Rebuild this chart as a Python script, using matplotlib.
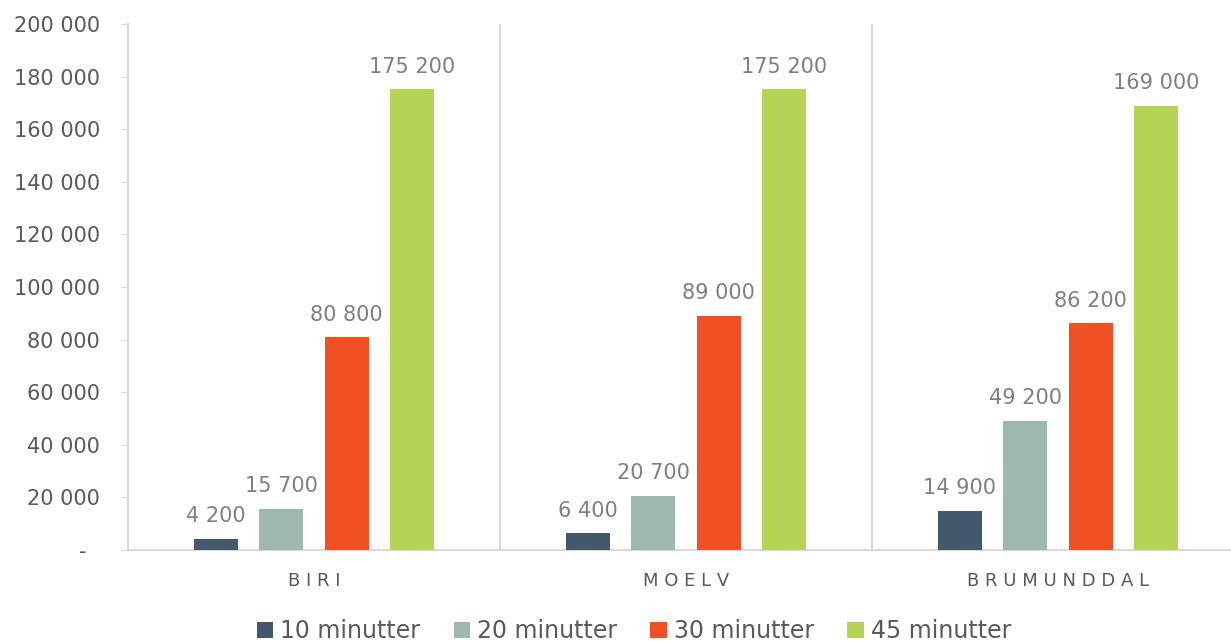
import matplotlib.pyplot as plt
import numpy as np

# Data
places = ["BIRI", "MOELV", "BRUMUNDDAL"]
series = ["10 minutter", "20 minutter", "30 minutter", "45 minutter"]
values = [
    [4200, 6400, 14900],
    [15700, 20700, 49200],
    [80800, 89000, 86200],
    [175200, 175200, 169000],
]
colors = ["#41596b", "#9db8ae", "#f05023", "#b5d455"]
yticks = [0, 20000, 40000, 60000, 80000, 100000, 120000, 140000, 160000, 180000, 200000]


def fmt(v):
    return "-  " if v == 0 else f"{v:,}".replace(",", " ")


fig = plt.figure(figsize=(12.31, 6.42), dpi=100)
# axes extends slightly past the right edge, as in the reference
ax = fig.add_axes([128 / 1231, 1 - 550 / 642, 1116 / 1231, 526 / 642])

x = np.arange(len(places))
step = 0.176
width = 0.118
offsets = (np.arange(len(series)) - 1.5) * step

for i, name in enumerate(series):
    bars = ax.bar(x + offsets[i], values[i], width, color=colors[i], label=name, zorder=3)
    for b, v in zip(bars, values[i]):
        ax.annotate(fmt(v), (b.get_x() + b.get_width() / 2, v), xytext=(0, 9),
                    textcoords="offset points", ha="center", va="bottom",
                    fontsize=15, color="#7f7f7f")

ax.set_xlim(-0.5, len(places) - 0.5)
ax.set_ylim(0, 200000)
ax.set_yticks(yticks)
ax.set_yticklabels([fmt(v) for v in yticks], fontsize=15, color="#595959")
ax.set_xticks(x)
ax.set_xticklabels([" ".join(p) for p in places], fontsize=13, color="#595959")
ax.tick_params(axis="x", length=0, pad=16)
ax.tick_params(axis="y", length=5, color="#d9d9d9", pad=15)

# category separators
for sep in [0.5, 1.5]:
    ax.axvline(sep, color="#d9d9d9", lw=1.5, zorder=1)

for s in ["top", "right"]:
    ax.spines[s].set_visible(False)
for s in ["left", "bottom"]:
    ax.spines[s].set_color("#d9d9d9")
    ax.spines[s].set_linewidth(1.5)

leg = fig.legend(loc="lower center", bbox_to_anchor=(0.515, -0.035), ncol=4, frameon=False,
                 fontsize=17, handlelength=0.7, handleheight=0.7, handletextpad=0.3,
                 columnspacing=1.4)
for t in leg.get_texts():
    t.set_color("#595959")

fig.savefig("out.png", dpi=100)
